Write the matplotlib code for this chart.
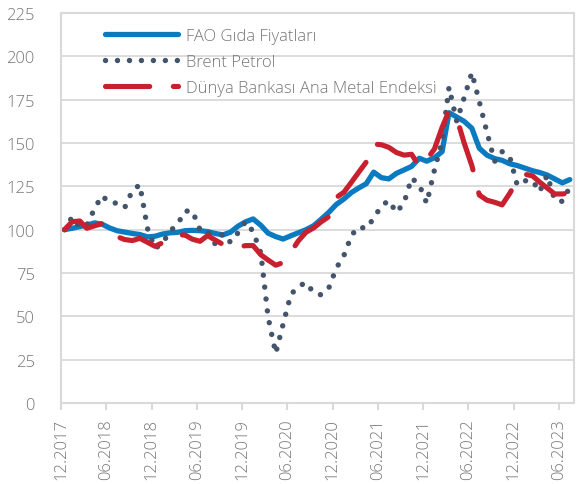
import numpy as np
import pandas as pd
import matplotlib
matplotlib.use("Agg")
import matplotlib.pyplot as plt
import matplotlib.dates as mdates

plt.rcParams['font.family'] = ['Open Sans', 'DejaVu Sans']
plt.rcParams['font.weight'] = 'light'

# monthly index values, 12.2017 = 100 (12.2017 ... 07.2023)
fao = [100, 100.8, 101.8, 102.6, 103.9, 103.2, 101, 99.4, 98.6, 97.8, 97.2, 95.8,
       96.2, 97.5, 98.2, 98.4, 99.4, 99.6, 99.4, 98.9, 97.8, 97, 98.5, 102,
       104.5, 106.2, 102.5, 98, 96, 94.6, 96.5, 98.2, 100, 102.3, 106, 110,
       114.5, 117.7, 121.5, 124, 126.5, 133.2, 130, 129.3, 132.5, 134.5, 136.5, 141.2,
       139.5, 141.5, 145, 167.5, 165, 162.5, 158.5, 147, 143, 141, 140, 138,
       137, 135.5, 134, 133, 131.5, 129.3, 127, 128.9]
brent = [100, 107.3, 101.5, 102.6, 112, 119.6, 115.6, 115.3, 112.7, 122.6, 125.9, 100.6,
         89.1, 92.3, 99.4, 102.8, 110.7, 110.8, 99.8, 99.3, 91.7, 97.6, 92.8, 98.2,
         104.6, 98.9, 86.5, 49.7, 28.6, 45.6, 62.6, 67.2, 69.5, 63.6, 62.4, 66.3,
         77.7, 85.1, 96.8, 101.6, 100.7, 106.5, 113.7, 116.8, 109.9, 115.7, 129.8, 125.9,
         115.2, 134.4, 150.9, 182.2, 162.5, 176.1, 190.6, 173.9, 156.1, 139.4, 145, 142,
         125.7, 128.2, 128.3, 121.8, 131.5, 117.2, 116.3, 124.5]
metal = [100, 104.6, 105, 100.8, 102.2, 103.5, 100, 96, 94.3, 93.7, 95, 92.7,
         90.4, 92.5, 95, 97, 96.9, 94.5, 93.3, 96.6, 94, 91.5, 90.5, 89.8,
         90.8, 90.8, 85.5, 82.5, 79.5, 81, 87, 93.5, 98.5, 101, 104.5, 107.5,
         118.5, 121.6, 127.5, 133, 139, 149.4, 149, 147.5, 144.5, 143, 143.5, 136.5,
         140.5, 146.5, 159, 168.5, 164.5, 150, 137, 120, 117, 115.8, 114.3, 121,
         128.5, 132, 131, 127.5, 124, 120.6, 120.6, 121.2]
labels = ['FAO Gıda Fiyatları', 'Brent Petrol', 'Dünya Bankası Ana Metal Endeksi']

dates = pd.date_range('2017-12-01', periods=len(fao), freq='MS') + pd.Timedelta(days=14)

fig = plt.figure(figsize=(5.78, 4.85), dpi=100)
ax = fig.add_axes([61/578, 1-404/485, (574-61)/578, (404-14)/485])

ax.plot(dates, fao, color='#0B7BC1', lw=3.8, solid_capstyle='round', solid_joinstyle='round', label=labels[0])
ax.plot(dates, brent, color='#44546A', lw=3.9, linestyle=(0, (0.01, 2.2)), dash_capstyle='round', label=labels[1])
ax.plot(dates, metal, color='#C8202F', lw=3.7, linestyle=(0, (8.6, 4.6)), dash_capstyle='round', dash_joinstyle='round', label=labels[2])

ax.set_ylim(0, 225)
ax.set_yticks(np.arange(0, 226, 25))
ax.set_xlim(pd.Timestamp('2017-12-01'), pd.Timestamp('2023-08-01'))
ax.set_xticks(pd.date_range('2017-12-01', '2023-06-01', freq='6MS'))
ax.xaxis.set_major_formatter(mdates.DateFormatter('%m.%Y'))
plt.setp(ax.get_xticklabels(), rotation=90)

ax.grid(axis='y', color='#D9D9D9', lw=1.3)
ax.set_axisbelow(True)
for s in ax.spines.values():
    s.set_color('#D9D9D9')
    s.set_linewidth(1.5)
ax.tick_params(axis='y', length=0, pad=19, labelsize=12, labelcolor='#767676')
ax.tick_params(axis='x', length=5, width=1.5, color='#D9D9D9', pad=6, labelsize=12, labelcolor='#767676')

leg = ax.legend(loc='upper left', bbox_to_anchor=(105/578, 1-29/485), bbox_transform=fig.transFigure,
                frameon=False, fontsize=12, handlelength=4.4, handletextpad=0.45,
                labelspacing=0.6, borderpad=0, borderaxespad=0)
for t in leg.get_texts():
    t.set_color('#767676')

fig.savefig('out.png', dpi=100)
